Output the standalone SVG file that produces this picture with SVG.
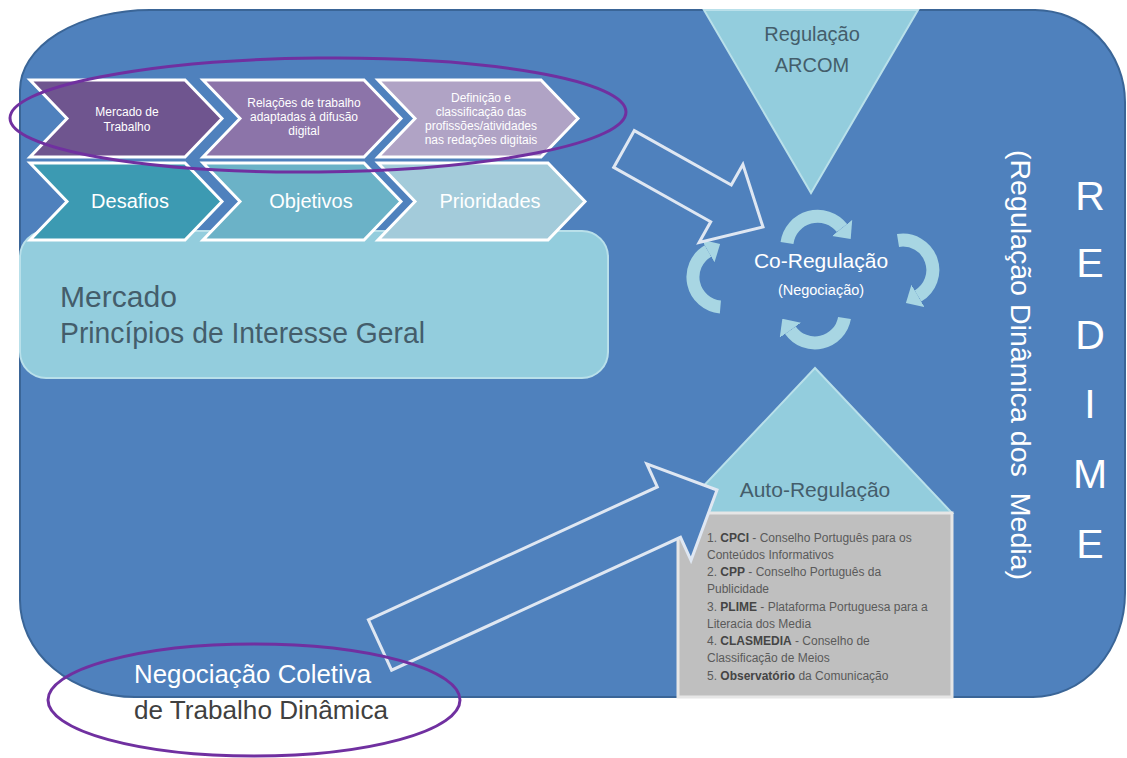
<svg xmlns="http://www.w3.org/2000/svg" width="1127" height="758" viewBox="0 0 1127 758">
<style>
.chev{stroke:#ffffff;stroke-width:3;stroke-linejoin:miter}
.t1{font-family:"Liberation Sans",Arial,sans-serif;font-size:12px;fill:#ffffff;text-anchor:middle}
.t2{font-family:"Liberation Sans",Arial,sans-serif;font-size:20px;fill:#ffffff;text-anchor:middle}
.dark{font-family:"Liberation Sans",Arial,sans-serif;fill:#445d6b}
.light{fill:#93cddd;stroke:#b9e0ea;stroke-width:2}
.cyc{fill:none;stroke:#a8d6e3;stroke-width:13;marker-end:url(#ah)}
.bigarrow{fill:#4f81bd;stroke:#dfe7f2;stroke-width:3;stroke-linejoin:miter}
.ell{fill:none;stroke:#7030a0;stroke-width:3}
.list{font-family:"Liberation Sans",Arial,sans-serif;font-size:12px;fill:#5a5a5a}
.b{font-weight:bold;fill:#454545}
</style>
<defs>
<marker id="ah" viewBox="0 0 14 26" refX="0" refY="13" markerWidth="14" markerHeight="26" orient="auto" markerUnits="userSpaceOnUse">
<path d="M0 0 L14 13 L0 26 Z" fill="#a8d6e3"/>
</marker>
</defs>
<rect x="0" y="0" width="1127" height="758" fill="#ffffff"/>
<g id="background">
<path d="M150 10 H1035 A90 92 0 0 1 1125 102 V593 A92 104 0 0 1 1033 697 H135 A115 97 0 0 1 20 600 V90 A130 80 0 0 1 150 10 Z" fill="#4f81bd" stroke="#3a6597" stroke-width="2"/>
</g>
<g id="mercado">
<rect x="20" y="231" width="588" height="147" rx="26" ry="26" class="light"/>
<text class="dark" font-size="29" x="60" y="307" textLength="117" lengthAdjust="spacingAndGlyphs">Mercado</text>
<text class="dark" font-size="29" x="60" y="343" textLength="365" lengthAdjust="spacingAndGlyphs">Princípios de Interesse Geral</text>
</g>
<g id="row2">
<g id="desafios">
<polygon class="chev" fill="#3c9ab2" points="30,163 185,163 222,201.5 185,240 30,240 67,201.5"/>
<text class="t2" x="130" y="208">Desafios</text>
</g>
<g id="objetivos">
<polygon class="chev" fill="#6bb2c7" points="203,163 364,163 401,201.5 364,240 203,240 240,201.5"/>
<text class="t2" x="311" y="208">Objetivos</text>
</g>
<g id="prioridades">
<polygon class="chev" fill="#a3cbda" points="378,163 548,163 585,201.5 548,240 378,240 415,201.5"/>
<text class="t2" x="490" y="208">Prioridades</text>
</g>
</g>
<g id="row1">
<g id="mercado-trabalho">
<polygon class="chev" fill="#6f558f" points="30,80 185,80 222,118.5 185,157 30,157 67,118.5"/>
<text class="t1" x="127" y="116">Mercado de</text>
<text class="t1" x="127" y="131">Trabalho</text>
</g>
<g id="relacoes">
<polygon class="chev" fill="#8c74a9" points="203,80 364,80 401,118.5 364,157 203,157 240,118.5"/>
<text class="t1" x="304" y="107">Relações de trabalho</text>
<text class="t1" x="304" y="121">adaptadas à difusão</text>
<text class="t1" x="304" y="135">digital</text>
</g>
<g id="definicao">
<polygon class="chev" fill="#b0a3c5" points="378,80 541,80 578,118.5 541,157 378,157 415,118.5"/>
<text class="t1" x="481" y="102">Definição e</text>
<text class="t1" x="481" y="116">classificação das</text>
<text class="t1" x="481" y="130">profissões/atividades</text>
<text class="t1" x="481" y="144">nas redações digitais</text>
</g>
</g>
<g id="ellipse-top">
<ellipse class="ell" cx="318" cy="115" rx="308" ry="57" transform="rotate(-0.6 318 115)"/>
</g>
<g id="regulacao-arcom">
<polygon points="704,10 918,10 811,193" fill="#93cddd" stroke="#b9e0ea" stroke-width="2"/>
<text class="dark" font-size="20" x="812" y="41" text-anchor="middle">Regulação</text>
<text class="dark" font-size="20" x="812" y="72" text-anchor="middle">ARCOM</text>
</g>
<g id="co-regulacao">
<path class="cyc" d="M787 243 A31 31 0 0 1 842 228"/>
<path class="cyc" d="M898 240.5 A30 30 0 0 1 918 296"/>
<path class="cyc" d="M844.5 318 A30 30 0 0 1 790.4 330.2"/>
<path class="cyc" d="M720.4 306.9 A30 30 0 0 1 708 251"/>
<text x="821" y="268" text-anchor="middle" font-family="Liberation Sans, Arial, sans-serif" font-size="21" fill="#ffffff">Co-Regulação</text>
<text x="821" y="295" text-anchor="middle" font-family="Liberation Sans, Arial, sans-serif" font-size="14.5" fill="#ffffff">(Negociação)</text>
</g>
<g id="auto-regulacao">
<polygon points="815,368 952,513 678,513" fill="#93cddd" stroke="#b9e0ea" stroke-width="2"/>
<rect x="678" y="513" width="274" height="184" fill="#bfbfbf" stroke="#e6e6e6" stroke-width="3"/>
<text class="dark" font-size="21" x="815" y="497" text-anchor="middle">Auto-Regulação</text>
<text class="list" x="707" y="542">1. <tspan class="b">CPCI</tspan> - Conselho Português para os</text>
<text class="list" x="707" y="559">Conteúdos Informativos</text>
<text class="list" x="707" y="576">2. <tspan class="b">CPP</tspan> - Conselho Português  da</text>
<text class="list" x="707" y="593">Publicidade</text>
<text class="list" x="707" y="611">3. <tspan class="b">PLIME</tspan> - Plataforma Portuguesa para a</text>
<text class="list" x="707" y="628">Literacia dos Media</text>
<text class="list" x="707" y="645">4. <tspan class="b">CLASMEDIA</tspan> - Conselho de</text>
<text class="list" x="707" y="662">Classificação de Meios</text>
<text class="list" x="707" y="680">5. <tspan class="b">Observatório</tspan> da Comunicação</text>
</g>
<g id="connectors">
<polygon class="bigarrow" points="634.3,130.6 731.3,185 742.9,164.4 763,227 699.1,242.4 710.7,221.8 613.7,167.4"/>
<polygon class="bigarrow" points="368.4,619.8 657.3,486.9 646.8,463.9 717,490 691,560.3 680.5,537.3 391.6,670.2"/>
</g>
<g id="redime">
<g font-family="Liberation Sans, Arial, sans-serif" font-size="41" fill="#ffffff" text-anchor="middle">
<text x="1090" y="210">R</text>
<text x="1090" y="277">E</text>
<text x="1090" y="349">D</text>
<text x="1090" y="418">I</text>
<text x="1090" y="488">M</text>
<text x="1090" y="558">E</text>
</g>
<text transform="translate(1011 365) rotate(90)" text-anchor="middle" font-family="Liberation Sans, Arial, sans-serif" font-size="27" fill="#ffffff" textLength="430" lengthAdjust="spacingAndGlyphs" style="white-space:pre">(Regulação Dinâmica dos  Media)</text>
</g>
<g id="negociacao">
<text x="134" y="683" font-family="Liberation Sans, Arial, sans-serif" font-size="25" fill="#ffffff" textLength="237" lengthAdjust="spacingAndGlyphs">Negociação Coletiva</text>
<text x="134" y="719" font-family="Liberation Sans, Arial, sans-serif" font-size="25" fill="#404040" textLength="254" lengthAdjust="spacingAndGlyphs">de Trabalho Dinâmica</text>
<ellipse class="ell" cx="254" cy="700" rx="206" ry="56"/>
</g>
</svg>
